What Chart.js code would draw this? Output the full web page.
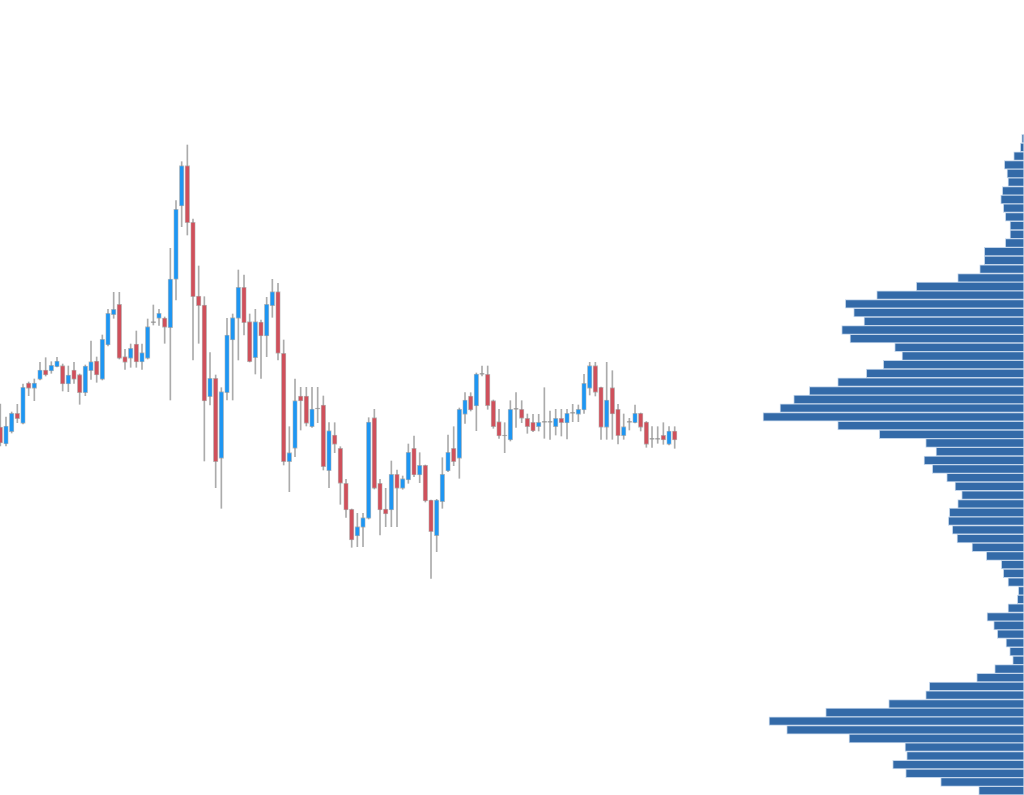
<!DOCTYPE html>
<html>
<head>
<meta charset="utf-8">
<script src="https://cdn.jsdelivr.net/npm/chart.js@4/dist/chart.umd.min.js"></script>
<style>
    html, body { margin: 0; padding: 0; background: #fff; }
    #wrap { position: relative; width: 1024px; height: 795px; overflow: hidden; }
    #wrap canvas { position: absolute; left: 0; top: 0; }
</style>
</head>
<body>
<div id="wrap">
    <canvas id="chartProfile" width="1024" height="795"></canvas>
    <canvas id="chartCandles" width="1024" height="795"></canvas>
</div>
<script>
// daily candles, oldest first
const opens = [
    47.30, 45.60, 46.83, 48.67, 47.67, 51.70, 51.17, 52.07, 53.00, 52.90,
    53.33, 53.43, 51.60, 53.00, 52.53, 50.73, 52.93, 53.90, 52.07, 55.50,
    58.53, 59.57, 54.33, 54.17, 55.60, 53.80, 54.17, 57.73, 58.17, 58.20,
    57.23, 62.07, 69.40, 73.43, 67.77, 60.40, 59.50, 50.33, 52.17, 44.17,
    50.73, 56.00, 58.17, 61.27, 57.83, 54.23, 57.80, 56.40, 59.43, 60.83,
    54.67, 43.83, 45.17, 50.40, 50.40, 47.33, 49.10, 49.50, 42.93, 46.50,
    45.17, 41.67, 39.07, 36.40, 37.27, 38.17, 48.23, 41.67, 39.10, 39.00,
    42.57, 41.17, 42.00, 45.17, 42.50, 43.47, 40.00, 36.43, 39.83, 42.90,
    45.17, 44.17, 48.57, 50.40, 49.40, 52.57, 52.57, 49.93, 47.83, 46.40,
    46.00, 49.07, 49.07, 48.17, 47.77, 47.33, 47.77, 47.77, 47.33, 48.17,
    47.70, 48.67, 48.57, 49.00, 51.17, 53.43, 51.27, 47.27, 51.23, 49.07,
    46.43, 47.77, 47.73, 48.67, 47.80, 46.07, 46.07, 46.47, 45.57, 46.90
];
const highs = [
    49.60, 48.30, 48.80, 49.57, 51.60, 51.80, 52.10, 53.77, 54.23, 53.83,
    54.27, 53.60, 53.40, 53.77, 52.60, 53.50, 55.90, 54.30, 56.50, 59.07,
    60.77, 60.77, 55.07, 55.60, 56.90, 55.60, 58.10, 59.50, 59.07, 58.30,
    65.17, 69.93, 73.83, 75.50, 68.10, 63.40, 60.33, 54.73, 52.50, 51.23,
    58.17, 58.60, 63.00, 62.50, 58.60, 59.07, 58.00, 60.27, 62.07, 61.67,
    56.00, 47.33, 52.10, 51.27, 51.27, 51.27, 51.27, 50.40, 47.73, 47.73,
    45.33, 42.07, 39.10, 38.67, 38.67, 48.23, 49.07, 42.07, 41.17, 43.90,
    43.00, 42.40, 45.60, 46.40, 44.73, 43.50, 40.00, 40.07, 44.23, 46.50,
    47.33, 49.20, 50.73, 50.73, 52.70, 53.40, 53.40, 50.00, 49.07, 47.73,
    49.93, 50.73, 49.93, 48.60, 48.57, 48.57, 51.23, 48.90, 49.07, 49.07,
    49.07, 49.57, 49.50, 52.57, 53.77, 53.77, 51.30, 53.77, 52.93, 49.57,
    48.60, 48.17, 49.50, 48.70, 47.85, 47.33, 47.33, 47.73, 47.33, 47.33
];
const lows = [
    45.40, 45.40, 46.70, 47.73, 47.60, 50.43, 49.93, 52.00, 52.40, 52.67,
    53.30, 50.90, 50.83, 51.67, 49.57, 50.43, 52.07, 51.77, 52.00, 55.40,
    58.17, 54.10, 53.07, 53.27, 53.27, 53.07, 54.10, 57.50, 57.47, 55.67,
    50.00, 60.00, 67.33, 66.50, 54.00, 55.67, 43.90, 49.50, 41.23, 39.17,
    50.00, 50.00, 54.00, 56.50, 53.80, 52.60, 52.17, 54.33, 58.27, 54.00,
    43.50, 40.83, 44.33, 47.00, 47.40, 47.27, 47.73, 43.00, 41.23, 44.73,
    39.57, 38.27, 35.27, 35.33, 35.33, 38.10, 41.10, 36.50, 37.33, 37.33,
    37.33, 41.07, 41.67, 42.33, 41.73, 39.80, 32.17, 34.83, 39.17, 42.83,
    43.43, 42.17, 47.67, 48.90, 46.93, 52.40, 49.07, 47.17, 46.17, 44.73,
    45.90, 47.27, 47.73, 46.67, 46.83, 46.90, 46.17, 46.07, 46.50, 46.40,
    46.10, 47.83, 47.83, 48.67, 50.50, 50.40, 46.07, 46.07, 46.07, 45.60,
    46.07, 47.00, 47.70, 46.90, 45.27, 45.27, 45.67, 45.57, 45.50, 45.17
];
const closes = [
    45.70, 47.40, 48.67, 48.13, 51.27, 51.17, 51.70, 53.00, 52.50, 53.47,
    53.90, 51.60, 52.50, 52.07, 50.73, 53.40, 53.83, 52.50, 56.07, 58.67,
    59.07, 54.17, 53.77, 55.17, 53.80, 54.73, 57.33, 57.73, 58.67, 57.27,
    62.10, 69.07, 73.43, 67.73, 60.33, 59.43, 49.90, 52.17, 43.83, 50.83,
    56.50, 58.23, 61.27, 57.73, 53.83, 57.83, 56.40, 59.57, 60.83, 54.67,
    43.83, 44.73, 49.93, 49.90, 47.67, 49.10, 49.10, 43.33, 46.93, 45.57,
    41.67, 39.00, 36.00, 37.33, 38.23, 47.80, 41.17, 39.00, 38.60, 42.57,
    41.17, 42.13, 44.77, 42.50, 43.47, 39.90, 36.83, 40.00, 42.57, 44.77,
    43.83, 49.07, 50.00, 49.00, 52.60, 52.57, 49.43, 47.33, 46.40, 46.40,
    49.07, 49.07, 48.17, 47.33, 46.90, 47.77, 47.77, 47.77, 48.17, 47.73,
    48.67, 48.67, 49.07, 51.67, 53.43, 50.77, 47.27, 50.00, 48.60, 46.43,
    47.33, 47.77, 48.67, 47.27, 45.57, 46.07, 46.07, 46.00, 46.90, 46.00
];

// volume profile: price level (bin centre) and traded volume
const profilePrices = [
    76.13, 75.26, 74.39, 73.52, 72.65, 71.78, 70.91, 70.05, 69.18, 68.31,
    67.44, 66.57, 65.70, 64.83, 63.96, 63.09, 62.22, 61.35, 60.48, 59.61,
    58.74, 57.87, 57.00, 56.14, 55.27, 54.40, 53.53, 52.66, 51.79, 50.92,
    50.05, 49.18, 48.31, 47.44, 46.57, 45.70, 44.83, 43.96, 43.10, 42.23,
    41.36, 40.49, 39.62, 38.75, 37.88, 37.01, 36.14, 35.27, 34.40, 33.53,
    32.66, 31.79, 30.92, 30.06, 29.19, 28.32, 27.45, 26.58, 25.71, 24.84,
    23.97, 23.10, 22.23, 21.36, 20.49, 19.62, 18.75, 17.88, 17.02, 16.15,
    15.28, 14.41, 13.54, 12.67, 11.80, 10.93
];
const profileVolumes = [
    23, 37, 103, 197, 170, 160, 217, 233, 207, 187,
    140, 140, 187, 397, 397, 443, 663, 1077, 1473, 1787,
    1703, 1600, 1823, 1740, 1293, 1220, 1407, 1577, 1863, 2147,
    2303, 2440, 2610, 1863, 1447, 983, 880, 1000, 917, 773,
    690, 623, 663, 747, 757, 717, 670, 520, 377, 227,
    207, 160, 57, 67, 160, 370, 303, 267, 180, 143,
    113, 293, 473, 947, 983, 1353, 1983, 2550, 2373, 1750,
    1190, 1173, 1313, 1183, 833, 453
];

const UP = '#1e96f2';
const DOWN = '#cf505b';
const FLAT = '#8a8a8a';

const candleColors = opens.map((o, i) => closes[i] > o ? UP : (closes[i] < o ? DOWN : FLAT));

new Chart(document.getElementById('chartCandles'), {
    type: 'bar',
    data: {
        datasets: [{
            label: 'body',
            data: opens.map((o, i) => ({ x: i, y: [o, closes[i]] })),
            backgroundColor: candleColors,
            borderColor: 'rgba(140,140,140,0.55)',
            borderWidth: 0.8,
            borderSkipped: false,
            barThickness: 4.6,
            minBarLength: 1,
            grouped: false,
            order: 1
        }, {
            label: 'wick',
            data: lows.map((l, i) => ({ x: i, y: [l, highs[i]] })),
            backgroundColor: '#ababab',
            borderWidth: 0,
            barThickness: 1,
            grouped: false,
            order: 2
        }]
    },
    options: {
        responsive: false,
        animation: false,
        layout: { padding: 0 },
        plugins: { legend: { display: false }, tooltip: { enabled: false } },
        scales: {
            x: { type: 'linear', display: false, offset: false, min: -0.058, max: 180.64 },
            y: { type: 'linear', display: false, offset: false, min: 10.5, max: 90 }
        }
    }
});

new Chart(document.getElementById('chartProfile'), {
    type: 'bar',
    data: {
        datasets: [{
            label: 'volume',
            data: profilePrices.map((p, k) => ({ x: profileVolumes[k], y: p })),
            backgroundColor: '#336aa8',
            borderColor: '#c3d5ea',
            borderWidth: 1,
            borderSkipped: false,
            barThickness: 8.6
        }]
    },
    options: {
        indexAxis: 'y',
        responsive: false,
        animation: false,
        layout: { padding: 0 },
        plugins: { legend: { display: false }, tooltip: { enabled: false } },
        scales: {
            x: { type: 'linear', display: false, offset: false, min: 0, max: 10240, reverse: true },
            y: { type: 'linear', display: false, offset: false, min: 10.5, max: 90 }
        }
    }
});
</script>
</body>
</html>
